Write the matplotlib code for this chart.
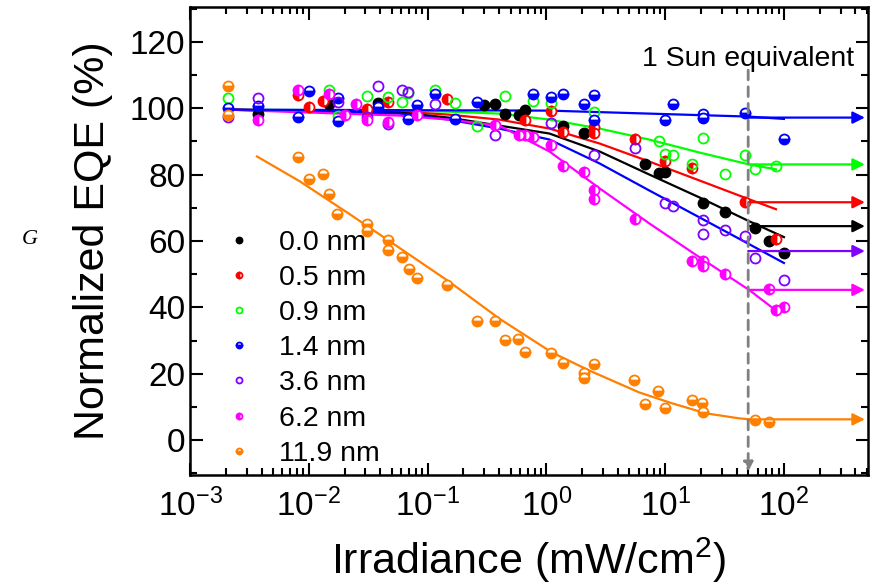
import matplotlib
matplotlib.use("Agg")
import matplotlib.pyplot as plt

plt.rcParams['font.family'] = ['Liberation Sans', 'DejaVu Sans']
plt.rcParams['mathtext.fontset'] = 'custom'
plt.rcParams['mathtext.rm'] = 'Liberation Sans'

# measured points (irradiance mW/cm2, normalized EQE %)
x_00 = [0.00373, 0.0147, 0.038, 0.301, 0.366, 0.452, 0.59, 0.667, 1.38, 2.08, 6.8, 8.9, 10.0, 21, 31.9, 57, 75, 100]
y_00 = [98.4, 101.4, 101.7, 101.1, 101.4, 98.4, 98.1, 99.6, 94.8, 92.7, 83.1, 80.4, 80.7, 71.4, 68.7, 63.9, 60.0, 56.4]

x_05 = [0.0081, 0.010, 0.0131, 0.0307, 0.0461, 0.1445, 0.667, 1.10, 1.38, 2.53, 2.53, 5.6, 10, 16.9, 47, 85.7]
y_05 = [104.1, 100.5, 102.3, 99.9, 102, 102.9, 96.6, 99.3, 93, 94.5, 92.7, 90.9, 84, 81.9, 71.7, 60.6]

x_09 = [0.0021, 0.0147, 0.0175, 0.0307, 0.0461, 0.0605, 0.069, 0.1146, 0.1687, 0.263, 0.452, 0.778, 1.10,
        2.53, 8.9, 21, 10, 11.7, 16.9, 31.9, 47, 57, 85.7]
y_09 = [103, 105.6, 97.8, 103.8, 103.5, 102, 104.7, 105.6, 101.7, 94.8, 103.8, 102.3, 101.7,
        99, 90, 91.2, 86.1, 85.8, 83.1, 80.1, 85.8, 81.6, 82.5]

x_14 = [0.0021, 0.00373, 0.0081, 0.010, 0.0175, 0.0175, 0.038, 0.069, 0.081, 0.1146, 0.1687, 0.263, 0.778,
        1.10, 1.38, 2.08, 2.53, 2.53, 11.7, 10, 21, 21, 47, 100]
y_14 = [100.2, 100.8, 97.5, 105.3, 103.2, 96.3, 100.5, 96.9, 101.1, 104.4, 96.9, 102, 104.4,
        103.5, 104.4, 101.4, 104.1, 96.6, 101.4, 96.6, 98.4, 97.2, 98.7, 90.9]

x_36 = [0.0021, 0.00373, 0.0175, 0.0307, 0.038, 0.0461, 0.0605, 0.069, 0.1146, 0.366, 1.10, 2.53, 5.6,
        10, 11.7, 21, 21, 31.9, 47, 57, 100]
y_36 = [97.5, 103, 102, 97.5, 106.8, 95.4, 105.6, 105, 101.4, 92.1, 95.7, 85.8, 87.9,
        71.4, 70.5, 66.3, 62.1, 63.3, 61.5, 54.9, 48.3]

x_62 = [0.00373, 0.0081, 0.0147, 0.0201, 0.0248, 0.0307, 0.0461, 0.081, 0.366, 0.59, 0.667, 0.778, 1.10,
        1.38, 2.08, 2.53, 2.53, 5.6, 16.9, 21, 21, 31.9, 75, 85.7, 100]
y_62 = [96.6, 105.6, 104.4, 98.1, 101.4, 96.6, 96, 98.1, 95.1, 92.1, 92.1, 91.5, 88.8,
        82.5, 80.7, 75.3, 72.6, 66.6, 54, 54, 52.5, 50.1, 45.6, 39.3, 40.2]

x_119 = [0.0021, 0.0021, 0.0081, 0.010, 0.0131, 0.0147, 0.0172, 0.0307, 0.0307, 0.0461, 0.0461, 0.0605,
         0.0692, 0.0809, 0.1445, 0.263, 0.366, 0.452, 0.582, 0.667, 1.10, 1.39, 2.08, 2.08, 2.53,
         5.48, 6.79, 8.73, 10.0, 16.9, 20.5, 20.9, 57.0, 74.8]
y_119 = [106.8, 98.1, 85.2, 78.6, 80.1, 74.1, 68.1, 65.1, 63.0, 60.3, 57.3, 55.2,
         51.6, 48.9, 46.8, 36.0, 36.0, 30.3, 30.6, 26.7, 26.4, 23.4, 20.4, 18.9, 23.1,
         18.0, 10.8, 14.7, 9.6, 12.0, 11.1, 8.4, 6.0, 5.4]

# fitted curves
fit_x = [0.002, 0.058, 0.15, 0.40, 1.06, 2.8, 7.3, 19.3, 50.8]
fit_00 = [99.6, 98.7, 97.2, 94.8, 92.4, 87.0, 80.1, 73.2, 66.0, 61.2]
fit_05 = [99.6, 99.0, 98.1, 96.6, 93.9, 89.4, 84.0, 78.3, 72.6, 69.6]
fit_09 = [99.6, 99.3, 99.0, 98.4, 96.6, 93.9, 90.6, 86.7, 83.1, 81.6]
fit_36 = [99.6, 98.4, 96.6, 93.9, 90.6, 83.4, 75.3, 67.2, 59.1, 53.4]
fit_62 = [99.6, 97.8, 96.6, 94.8, 87.0, 75.9, 65.4, 55.2, 45.3, 40.2]
fit_end = {'00': 100, '05': 85.7, '09': 85.7, '36': 100, '62': 78}

fit14_x = [0.002, 1.06, 50.8, 100]
fit14_y = [99.6, 99.3, 97.5, 96.8]

fit119_x = [0.00366, 0.0084, 0.0221, 0.0582, 0.153, 0.403, 1.12, 2.30, 6.05, 11.5, 22.1, 41.9, 50.8]
fit119_y = [85.5, 78, 68.1, 57.9, 47.7, 36.6, 26.4, 21, 14.4, 11.1, 8.1, 6.6, 6.3]

# saturated levels at 1 sun (arrows)
sun = 50
arrow_end = 480
levels = {'#0000ff': 97.2, '#00ff00': 83.1, '#ff0000': 71.7, '#000000': 64.5,
          '#8000ff': 57.0, '#ff00ff': 45.3, '#ff8000': 6.3}


def main():
    fig = plt.figure(figsize=(8.83, 5.88), dpi=100)
    ax = fig.add_axes([0.2152, 0.192, 0.7678, 0.796])

    ms = 7.2
    series = [
        (x_00, y_00, '#000000', 'full', '0.0 nm'),
        (x_05, y_05, '#ff0000', 'left', '0.5 nm'),
        (x_09, y_09, '#00ff00', 'none', '0.9 nm'),
        (x_14, y_14, '#0000ff', 'bottom', '1.4 nm'),
        (x_36, y_36, '#8000ff', 'none', '3.6 nm'),
        (x_62, y_62, '#ff00ff', 'left', '6.2 nm'),
        (x_119, y_119, '#ff8000', 'bottom', '11.9 nm'),
    ]
    for xs, ys, c, fs, lab in series:
        ax.plot(xs, ys, 'o', color=c, fillstyle=fs, markerfacecoloralt='white',
                markeredgecolor=c, markeredgewidth=1.3, ms=ms, label=lab, zorder=3)

    lw = 1.6
    ax.plot(fit_x + [fit_end['09']], fit_09, '-', color='#00ff00', lw=lw)
    ax.plot(fit_x + [fit_end['05']], fit_05, '-', color='#ff0000', lw=lw)
    ax.plot(fit_x + [fit_end['00']], fit_00, '-', color='#000000', lw=lw)
    ax.plot(fit_x + [fit_end['36']], fit_36, '-', color='#0000ff', lw=lw)
    ax.plot(fit_x + [fit_end['62']], fit_62, '-', color='#ff00ff', lw=lw)
    ax.plot(fit14_x, fit14_y, '-', color='#0000ff', lw=lw)
    ax.plot(fit119_x, fit119_y, '-', color='#ff8000', lw=lw)

    for c, lev in levels.items():
        ax.annotate('', xy=(arrow_end, lev), xytext=(sun, lev),
                    arrowprops=dict(arrowstyle='-|>', color=c, lw=lw, mutation_scale=18,
                                    shrinkA=0, shrinkB=0))

    # 1 sun marker
    ax.annotate('', xy=(sun, -9.5), xytext=(sun, 111.5),
                arrowprops=dict(arrowstyle='-|>', color='#808080', lw=2, ls=(0, (3.5, 2.5)),
                                mutation_scale=14, shrinkA=0, shrinkB=0))
    ax.text(sun, 115, '1 Sun equivalent', ha='center', va='center', fontsize=20.5)

    ax.set_xscale('log')
    ax.set_xlim(1e-3, 510)
    ax.set_ylim(-10.5, 130.5)
    ax.set_yticks([0, 20, 40, 60, 80, 100, 120])
    ax.set_yticks(range(-10, 131, 10), minor=True)
    ax.tick_params(which='both', direction='in', top=True, right=True, width=1.5,
                   labelsize=24)
    ax.tick_params(which='major', length=9)
    ax.tick_params(which='minor', length=5)
    ax.tick_params(axis='x', which='major', pad=10)
    for s in ax.spines.values():
        s.set_linewidth(1.8)

    ax.set_xlabel('Irradiance (mW/cm$^2$)', fontsize=31, labelpad=9)
    ax.set_ylabel('Normalized EQE (%)', fontsize=31, labelpad=12)

    ax.legend(loc='upper left', bbox_to_anchor=(0.034, 0.548), frameon=False, fontsize=20.5,
              markerscale=0.6, handlelength=1.0, handletextpad=0.9, labelspacing=0.32,
              borderaxespad=0)

    fig.text(0.034, 1 - 240 / 588, 'G', family=['Liberation Serif', 'DejaVu Serif'],
             style='italic', fontsize=16, ha='center', va='center')

    fig.savefig('out.png', dpi=100)


if __name__ == "__main__":
    main()
